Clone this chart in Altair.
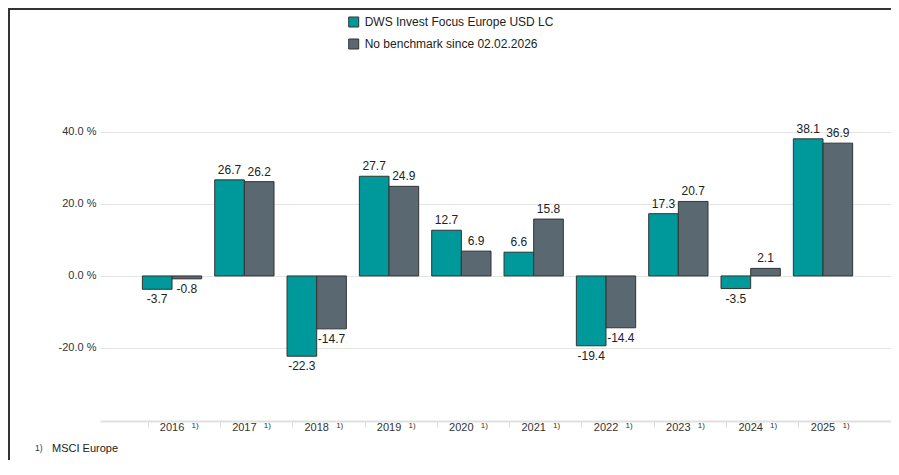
import altair as alt
import pandas as pd

years = ["2016", "2017", "2018", "2019", "2020", "2021", "2022", "2023", "2024", "2025"]
series = ["DWS Invest Focus Europe USD LC", "No benchmark since 02.02.2026"]
fund = [-3.7, 26.7, -22.3, 27.7, 12.7, 6.6, -19.4, 17.3, -3.5, 38.1]
bench = [-0.8, 26.2, -14.7, 24.9, 6.9, 15.8, -14.4, 20.7, 2.1, 36.9]
y_ticks = [-20, 0, 20, 40]
year_note = "1)"
footnote_mark = "1)"
footnote_text = "MSCI Europe"

colors = ["#00999b", "#5a6872"]
FONT = "Liberation Sans"

rows = []
for i, y in enumerate(years):
    rows.append({"year": y, "series": series[0], "value": fund[i]})
    rows.append({"year": y, "series": series[1], "value": bench[i]})
df = pd.DataFrame(rows)
df_years = pd.DataFrame({"year": years, "note": [year_note] * len(years)})
df_note = pd.DataFrame({"mark": [footnote_mark], "text": [footnote_text]})

W, H = 791, 361

x_enc = alt.X(
    "year:N",
    sort=years,
    scale=alt.Scale(paddingInner=0.18, paddingOuter=0.558, align=0.525),
    axis=alt.Axis(
        title=None, labels=False, grid=False,
        domainColor="#e0e0e0", domainWidth=2,
        tickColor="#d9d9d9", tickSize=6, tickWidth=1, bandPosition=0.095,
    ),
)
y_enc = alt.Y(
    "value:Q",
    scale=alt.Scale(domain=[-40.3, 60], nice=False, zero=False),
    axis=alt.Axis(
        values=y_ticks, title=None, domain=False, ticks=False,
        labelExpr="replace(format(datum.value, '.1f'), '\u2212', '-') + ' %'",
        gridColor="#e5e5e5", gridWidth=1, labelPadding=4,
        labelFontSize=11, labelColor="#333333", labelFont=FONT,
    ),
)
xo = alt.XOffset("series:N", sort=series)

base = alt.Chart(df).transform_calculate(
    label="replace(format(datum.value, '.1f'), '\u2212', '-')"
)

bars = alt.Chart(df).mark_bar(stroke="#333333", strokeWidth=1).encode(
    x=x_enc,
    xOffset=xo,
    y=y_enc,
    color=alt.Color(
        "series:N", sort=series,
        scale=alt.Scale(domain=series, range=colors),
        legend=alt.Legend(
            title=None, orient="none", legendX=247.7, legendY=-44,
            direction="vertical", symbolType="square", symbolSize=100,
            symbolStrokeColor="#333333", symbolStrokeWidth=1, symbolOpacity=1,
            labelFontSize=12, labelColor="#222222", labelFont=FONT,
            labelLimit=0, rowPadding=8, padding=0, labelOffset=5,
        ),
    ),
)

pos_labels = base.transform_filter("datum.value >= 0").mark_text(
    dy=-10, baseline="middle", align="center", fontSize=12, color="#222222", font=FONT
).encode(x=alt.X("year:N", sort=years), xOffset=xo, y="value:Q", text="label:N")

neg_labels = base.transform_filter("datum.value < 0").mark_text(
    dy=10, baseline="middle", align="center", fontSize=12, color="#222222", font=FONT
).encode(x=alt.X("year:N", sort=years), xOffset=xo, y="value:Q", text="label:N")

year_labels = alt.Chart(df_years).mark_text(
    baseline="middle", align="center", fontSize=11, color="#333333", font=FONT
).encode(x=alt.X("year:N", sort=years), y=alt.value(H + 7), text="year:N")

year_sup = alt.Chart(df_years).mark_text(
    baseline="middle", align="center", fontSize=8, color="#333333", font=FONT, dx=23
).encode(x=alt.X("year:N", sort=years), y=alt.value(H + 5), text="note:N")

foot_mark = alt.Chart(df_note).mark_text(
    baseline="middle", align="left", fontSize=8.5, color="#333333", font=FONT
).encode(x=alt.value(-65), y=alt.value(388), text="mark:N")

foot_text = alt.Chart(df_note).mark_text(
    baseline="middle", align="left", fontSize=11, color="#222222", font=FONT
).encode(x=alt.value(-48), y=alt.value(389), text="text:N")

left_border = alt.Chart(df_note).mark_rule(color="#333333", strokeWidth=2).encode(
    x=alt.value(-91), x2=alt.value(-91), y=alt.value(-52), y2=alt.value(400)
)
top_border = alt.Chart(df_note).mark_rule(color="#333333", strokeWidth=2).encode(
    x=alt.value(-92), x2=alt.value(W), y=alt.value(-51), y2=alt.value(-51)
)

chart = alt.layer(
    bars, pos_labels, neg_labels, year_labels, year_sup, foot_mark, foot_text,
    left_border, top_border
).properties(
    width=W, height=H,
    autosize=alt.AutoSizeParams(type="none"),
    padding={"left": 92, "top": 52, "right": 0, "bottom": 39},
).configure(font=FONT, view=alt.ViewConfig(stroke=None))

chart.save("out.html", embed_options={"renderer": "svg", "actions": False})
